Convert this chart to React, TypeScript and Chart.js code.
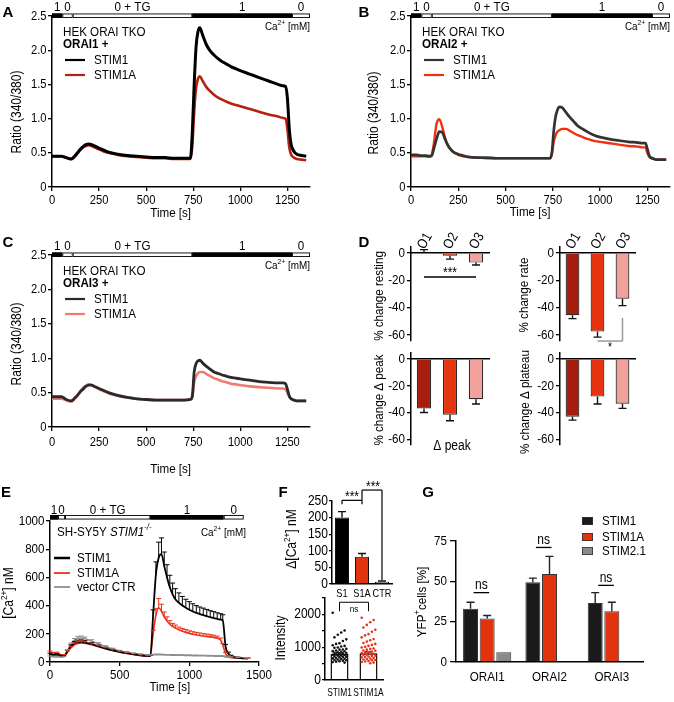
import React, { useEffect, useRef } from 'react';
import { Chart, registerables } from 'chart.js';

Chart.register(...registerables);

const W = 674;
const H = 702;
const SANS = "'Liberation Sans', Arial, Helvetica, sans-serif";
const SQ = 0.86; // horizontal squeeze to mimic a condensed Helvetica

// ---------------- protocol (Ca2+ bar) ----------------
const TIME_MAX = 1370;
const TIME_TICKS = [0, 250, 500, 750, 1000, 1250];
const RATIO_TICKS = [0, 0.5, 1, 1.5, 2, 2.5];
const CA_START = [0, 55, 110, 745, 1275];
const CA_END = [55, 110, 745, 1275, 1370];
const CA_LABELS = ['1', '0', '0 + TG', '1', '0'];
const CA_BLACK = [true, false, false, true, false];

// ---------------- panels A-C : time (s) and ratio ----------------
const T_ABC = [0, 25, 50, 75, 100, 110, 120, 135, 150, 165, 180, 195, 210, 225, 250, 275, 300, 350, 400, 450, 500, 550, 600, 650, 700, 735, 745, 755, 765, 775, 785, 800, 820, 840, 860, 880, 900, 925, 950, 975, 1000, 1050, 1100, 1150, 1200, 1225, 1240, 1250, 1260, 1270, 1285, 1300, 1325, 1350];

const A_STIM1 = [0.45, 0.45, 0.45, 0.43, 0.41, 0.42, 0.45, 0.50, 0.55, 0.59, 0.62, 0.63, 0.62, 0.60, 0.57, 0.54, 0.51, 0.48, 0.46, 0.45, 0.44, 0.43, 0.43, 0.42, 0.42, 0.42, 0.80, 1.50, 2.05, 2.27, 2.33, 2.22, 2.08, 1.99, 1.93, 1.88, 1.84, 1.80, 1.76, 1.73, 1.70, 1.65, 1.60, 1.55, 1.50, 1.48, 1.47, 1.30, 0.85, 0.62, 0.52, 0.48, 0.46, 0.45];
const A_STIM1A = [0.45, 0.45, 0.45, 0.43, 0.41, 0.42, 0.44, 0.49, 0.54, 0.58, 0.60, 0.61, 0.60, 0.58, 0.55, 0.52, 0.50, 0.47, 0.45, 0.44, 0.43, 0.42, 0.42, 0.41, 0.41, 0.41, 0.60, 1.10, 1.45, 1.58, 1.62, 1.55, 1.46, 1.40, 1.35, 1.31, 1.28, 1.25, 1.22, 1.20, 1.18, 1.14, 1.10, 1.06, 1.03, 1.01, 1.00, 0.85, 0.58, 0.47, 0.43, 0.41, 0.40, 0.39];

const B_STIM1 = [0.47, 0.47, 0.46, 0.46, 0.45, 0.46, 0.55, 0.70, 0.81, 0.80, 0.70, 0.61, 0.55, 0.51, 0.48, 0.46, 0.44, 0.43, 0.43, 0.42, 0.42, 0.42, 0.42, 0.42, 0.42, 0.42, 0.50, 0.82, 1.03, 1.13, 1.17, 1.16, 1.09, 1.02, 0.96, 0.90, 0.86, 0.82, 0.78, 0.75, 0.73, 0.70, 0.68, 0.66, 0.65, 0.64, 0.64, 0.56, 0.46, 0.43, 0.41, 0.40, 0.40, 0.40];
const B_STIM1A = [0.45, 0.45, 0.45, 0.45, 0.44, 0.47, 0.62, 0.92, 0.99, 0.88, 0.72, 0.61, 0.55, 0.51, 0.47, 0.45, 0.44, 0.43, 0.42, 0.42, 0.42, 0.42, 0.42, 0.42, 0.42, 0.42, 0.48, 0.66, 0.76, 0.81, 0.83, 0.85, 0.85, 0.82, 0.79, 0.76, 0.74, 0.71, 0.69, 0.67, 0.66, 0.64, 0.62, 0.60, 0.59, 0.58, 0.58, 0.50, 0.44, 0.42, 0.41, 0.40, 0.40, 0.40];

const C_STIM1 = [0.44, 0.44, 0.44, 0.40, 0.38, 0.39, 0.42, 0.46, 0.51, 0.55, 0.59, 0.61, 0.61, 0.59, 0.56, 0.53, 0.50, 0.46, 0.43, 0.41, 0.40, 0.39, 0.39, 0.39, 0.39, 0.40, 0.45, 0.80, 0.92, 0.96, 0.97, 0.93, 0.88, 0.84, 0.80, 0.78, 0.76, 0.74, 0.72, 0.71, 0.70, 0.68, 0.66, 0.65, 0.64, 0.64, 0.63, 0.55, 0.45, 0.41, 0.39, 0.38, 0.38, 0.38];
const C_STIM1A = [0.41, 0.41, 0.41, 0.39, 0.37, 0.38, 0.41, 0.46, 0.52, 0.57, 0.60, 0.62, 0.61, 0.59, 0.55, 0.52, 0.49, 0.45, 0.43, 0.41, 0.40, 0.39, 0.39, 0.39, 0.39, 0.40, 0.43, 0.65, 0.74, 0.78, 0.80, 0.80, 0.77, 0.74, 0.71, 0.69, 0.67, 0.65, 0.63, 0.62, 0.61, 0.59, 0.58, 0.57, 0.56, 0.56, 0.55, 0.50, 0.44, 0.41, 0.39, 0.38, 0.38, 0.38];

// ---------------- panel D : % change ----------------
const D_CATS = ['O1', 'O2', 'O3'];
const D_COLORS = ['#a61d0e', '#e5340f', '#f3a19d'];
const D_TICKS = [0, -20, -40, -60];
const D_REST = [1, -2, -7];
const D_REST_ERR = [1.5, 2.5, 1.8];
const D_RATE = [-45.5, -57.5, -33.5];
const D_RATE_ERR = [2.5, 4, 5];
const D_PEAK = [-36.8, -41.5, -30];
const D_PEAK_ERR = [3, 4.5, 3.5];
const D_PLAT = [-43, -28, -33.3];
const D_PLAT_ERR = [2.5, 5.5, 3.5];

// ---------------- panel E : [Ca2+] nM ----------------
const E_CA_START = [0, 58, 108, 720, 1247];
const E_CA_END = [58, 108, 720, 1247, 1390];
const E_X_TICKS = [0, 500, 1000, 1500];
const E_Y_TICKS = [0, 200, 400, 600, 800, 1000];
const T_E = [0, 50, 100, 125, 150, 175, 200, 225, 250, 300, 350, 400, 450, 500, 550, 600, 650, 700, 720, 740, 760, 780, 800, 820, 840, 860, 880, 900, 925, 950, 975, 1000, 1025, 1050, 1075, 1100, 1125, 1150, 1175, 1200, 1225, 1240, 1260, 1280, 1300, 1350, 1400, 1420];
const E_STIM1 = [52, 50, 42, 75, 110, 132, 140, 142, 138, 126, 110, 95, 82, 72, 63, 55, 48, 43, 42, 330, 620, 740, 765, 680, 600, 530, 480, 445, 420, 400, 385, 370, 358, 348, 340, 332, 325, 318, 312, 305, 300, 295, 110, 60, 42, 30, 26, 25];
const E_STIM1_ERR = [10, 10, 8, 10, 12, 14, 15, 15, 14, 12, 10, 10, 9, 8, 8, 7, 7, 6, 6, 40, 90, 110, 115, 100, 90, 85, 80, 75, 70, 65, 60, 58, 55, 52, 50, 50, 48, 46, 45, 44, 42, 40, 15, 10, 6, 5, 4, 4];
const E_STIM1A = [68, 62, 45, 70, 100, 122, 132, 135, 133, 122, 108, 94, 82, 70, 61, 53, 46, 42, 42, 200, 330, 385, 360, 320, 290, 268, 252, 240, 228, 218, 210, 203, 197, 192, 188, 184, 181, 178, 174, 168, 155, 120, 60, 40, 33, 28, 25, 24];
const E_STIM1A_ERR = [10, 8, 8, 10, 12, 14, 15, 15, 14, 12, 10, 9, 8, 7, 6, 6, 5, 5, 5, 25, 50, 65, 50, 35, 30, 25, 22, 22, 20, 20, 20, 18, 18, 18, 18, 17, 17, 16, 16, 15, 15, 12, 8, 6, 5, 4, 4, 4];
const E_CTR = [38, 36, 35, 80, 125, 155, 168, 170, 165, 148, 128, 108, 92, 78, 66, 58, 52, 48, 48, 50, 52, 52, 51, 50, 49, 49, 48, 48, 47, 47, 46, 46, 45, 45, 44, 44, 43, 43, 42, 41, 41, 40, 36, 33, 31, 28, 27, 26];
const E_CTR_ERR = [5, 5, 5, 8, 10, 12, 14, 14, 12, 10, 8, 7, 6, 5, 5, 4, 4, 4, 4, 4, 4, 4, 4, 4, 4, 4, 4, 4, 4, 4, 4, 4, 4, 4, 4, 4, 4, 4, 4, 4, 4, 4, 4, 4, 4, 4, 4, 4];

// ---------------- panel F ----------------
const F_CATS = ['S1', 'S1A', 'CTR'];
const F_VALS = [200, 82, 7];
const F_ERR = [18, 10, 2];
const F_COLORS = ['#000000', '#e2330f', '#8a8a8a'];
const F_TICKS = [0, 50, 100, 150, 200, 250];
const F2_CATS = ['STIM1', 'STIM1A'];
const F2_MEAN = [790, 815];
const F2_ERR = [35, 40];
const F2_TICKS = [0, 500, 1000, 1500, 2000, 2500];
const F2_DOTS_STIM1 = [2050, 1510, 1450, 1380, 1300, 1240, 1190, 1120, 1100, 1060, 1040, 1020, 990, 980, 950, 930, 925, 900, 880, 875, 860, 845, 830, 825, 810, 790, 785, 770, 760, 745, 740, 720, 705, 700, 690, 670, 660, 650, 640, 625, 610, 600, 590, 575, 560, 545, 530];
const F2_DOTS_STIM1A = [1900, 1830, 1760, 1680, 1600, 1530, 1470, 1400, 1360, 1300, 1250, 1210, 1170, 1130, 1100, 1070, 1040, 1010, 990, 960, 945, 925, 900, 890, 870, 850, 840, 820, 800, 790, 770, 760, 740, 730, 715, 700, 690, 670, 655, 640, 625, 610, 600, 580, 565, 550, 530, 510];

// ---------------- panel G ----------------
const G_CATS = ['ORAI1', 'ORAI2', 'ORAI3'];
const G_TICKS = [0, 25, 50, 75];
const G_STIM1 = [33, 49.5, 36.5];
const G_STIM1_ERR = [4, 2.5, 6.5];
const G_STIM1A = [27, 54.5, 31.5];
const G_STIM1A_ERR = [1.8, 11, 5.5];
const G_STIM21 = [6, null, 0.6];
const G_STIM21_ERR = [0, 0, 0];
const G_NS_LEVEL = [43, 71, 47.5];

// ---------------- helpers ----------------
type Area = { l: number; t: number; r: number; b: number };
const pad = (a: Area, yW: number, xH: number) => ({ left: a.l - yW, top: a.t, right: W - a.r, bottom: H - a.b - xH });
const BORDER = { display: true, color: '#000', width: 1.5 };
const tickGrid = (len: number) => ({ display: true, drawOnChartArea: false, drawTicks: true, tickLength: len, color: '#000', lineWidth: 1.3 });
const NO_GRID = { display: false, drawTicks: false };
const HIDE = { display: false };
const fixedTicks = (vals: number[]) => (s: any) => { s.ticks = vals.map((v) => ({ value: v })); };

type Part = { t: string; sup?: boolean; it?: boolean; b?: boolean };
function rich(ctx: any, parts: Part[], x: number, y: number, size: number, o: any = {}) {
  const sx = o.reg ? 1 : o.sx || SQ;
  const fontOf = (p: Part) => `${p.it ? 'italic ' : ''}${p.b ? 'bold ' : ''}${p.sup ? size * 0.68 : size}px ${SANS}`;
  ctx.save();
  ctx.translate(x, y);
  if (o.rot) ctx.rotate(o.rot);
  ctx.scale(sx, 1);
  let total = 0;
  const ws = parts.map((p) => { ctx.font = fontOf(p); const w = ctx.measureText(p.t).width; total += w; return w; });
  let cx = o.align === 'center' ? -total / 2 : o.align === 'right' ? -total : 0;
  ctx.textBaseline = 'middle';
  ctx.textAlign = 'left';
  ctx.fillStyle = o.color || '#000';
  parts.forEach((p, i) => { ctx.font = fontOf(p); ctx.fillText(p.t, cx, p.sup ? -size * 0.36 : 0); cx += ws[i]; });
  ctx.restore();
}
function text(ctx: any, s: string, x: number, y: number, size: number, o: any = {}) {
  rich(ctx, [{ t: s, b: o.b, it: o.it }], x, y, size, o);
}
function seg(ctx: any, x0: number, y0: number, x1: number, y1: number, color: string, w: number) {
  ctx.save(); ctx.strokeStyle = color; ctx.lineWidth = w; ctx.beginPath(); ctx.moveTo(x0, y0); ctx.lineTo(x1, y1); ctx.stroke(); ctx.restore();
}
// tick labels drawn from the chart's own scales (condensed text)
function drawTickLabels(chart: any, id: string, spec: any) {
  const s = chart.scales[id];
  const ctx = chart.ctx;
  const g = s.options.grid;
  const tl = g.display && g.drawTicks ? g.tickLength : 0;
  s.ticks.forEach((t: any, i: number) => {
    const p = s.getPixelForTick(i);
    const label = spec.fmt ? spec.fmt(t.value) : String(s.getLabelForValue(t.value));
    if (!label) return;
    if (s.isHorizontal()) text(ctx, label, p, s.top + tl + spec.pad + spec.size * 0.5, spec.size, { align: 'center', sx: spec.sx });
    else text(ctx, label, s.right - tl - spec.pad, p, spec.size, { align: 'right', sx: spec.sx });
  });
}
const num = (v: number) => String(v);
function drawCa(chart: any, starts: number[], ends: number[], barTop: number, labelY: number) {
  const ctx = chart.ctx; const xs = chart.scales.x;
  ctx.save();
  for (let i = 0; i < starts.length; i++) {
    const x0 = xs.getPixelForValue(starts[i]); const x1 = xs.getPixelForValue(ends[i]);
    ctx.fillStyle = CA_BLACK[i] ? '#000' : '#fff';
    ctx.fillRect(x0, barTop, x1 - x0, 4.5);
    ctx.strokeStyle = '#000'; ctx.lineWidth = 0.9;
    ctx.strokeRect(x0 + 0.45, barTop + 0.45, x1 - x0 - 0.9, 3.6);
    text(ctx, CA_LABELS[i], (x0 + x1) / 2, labelY, 13.5, { align: 'center' });
  }
  ctx.restore();
}
const caUnit = (ctx: any, x: number, y: number) => rich(ctx, [{ t: 'Ca' }, { t: '2+', sup: true }, { t: ' [mM]' }], x, y, 11.5, { align: 'right' });

const errorBars = {
  id: 'errorBars',
  afterDatasetsDraw(chart: any) {
    const ctx = chart.ctx;
    chart.data.datasets.forEach((ds: any, di: number) => {
      if (!ds.errors) return;
      const meta = chart.getDatasetMeta(di);
      const ys = chart.scales[meta.yAxisID];
      ctx.save();
      ctx.strokeStyle = ds.errorColor || ds.borderColor;
      ctx.lineWidth = ds.errorWidth || 1.2;
      meta.data.forEach((el: any, i: number) => {
        const e = ds.errors[i];
        const raw = ds.data[i];
        const v = raw !== null && typeof raw === 'object' ? raw.y : raw;
        if (!e || v === null || v === undefined) return;
        const dir = ds.errorDir || (v < 0 ? -1 : 1);
        const y1 = ys.getPixelForValue(v + dir * e);
        const cw = ds.capWidth === undefined ? 4 : ds.capWidth;
        ctx.beginPath();
        ctx.moveTo(el.x, el.y); ctx.lineTo(el.x, y1);
        ctx.moveTo(el.x - cw, y1); ctx.lineTo(el.x + cw, y1);
        ctx.stroke();
      });
      ctx.restore();
    });
  },
};
Chart.register(errorBars as any);

const baseOptions = (padding: any, scales: any) => ({
  responsive: false,
  animation: false,
  events: [],
  layout: { padding },
  plugins: { legend: { display: false }, tooltip: { enabled: false } },
  scales,
});

// ---------------- builders ----------------
function traceChart(c: any) {
  const yW = 40, xH = 20;
  return () => ({
    type: 'line',
    data: {
      datasets: [
        { data: T_ABC.map((t, i) => ({ x: t, y: c.s1[i] })), borderColor: c.c1, borderWidth: c.w1, pointRadius: 0, cubicInterpolationMode: 'monotone' },
        { data: T_ABC.map((t, i) => ({ x: t, y: c.s1a[i] })), borderColor: c.c1a, borderWidth: c.w1a, pointRadius: 0, cubicInterpolationMode: 'monotone' },
      ],
    },
    options: baseOptions(pad(c.area, yW, xH), {
      x: { type: 'linear', min: 0, max: TIME_MAX, afterBuildTicks: fixedTicks(TIME_TICKS), afterFit: (s: any) => { s.height = xH; }, grid: tickGrid(4), border: BORDER, ticks: HIDE },
      y: { type: 'linear', min: 0, max: 2.5, afterBuildTicks: fixedTicks(RATIO_TICKS), afterFit: (s: any) => { s.width = yW; }, grid: tickGrid(4), border: BORDER, ticks: HIDE },
    }),
    plugins: [{
      id: 'ann' + c.letter,
      afterDraw(chart: any) {
        const ctx = chart.ctx; const a = chart.chartArea; const xs = chart.scales.x;
        drawTickLabels(chart, 'x', { size: 13, pad: c.xpad, fmt: num });
        drawTickLabels(chart, 'y', { size: 13, pad: 1.5, fmt: (v: number) => (v === 0 ? '0' : v.toFixed(1)) });
        drawCa(chart, CA_START, CA_END, a.top - 2.5, a.top - 9);
        caUnit(ctx, a.right, a.top + 11);
        text(ctx, 'HEK ORAI TKO', a.left + 11, a.top + 16, 13.5);
        text(ctx, c.orai, a.left + 11, a.top + 28, 13.5, { b: true });
        seg(ctx, a.left + 13, a.top + 44, a.left + 33, a.top + 44, c.c1, 2.2);
        text(ctx, 'STIM1', a.left + 42, a.top + 44, 13.5);
        seg(ctx, a.left + 13, a.top + 59, a.left + 33, a.top + 59, c.c1a, 2.2);
        text(ctx, 'STIM1A', a.left + 42, a.top + 59, 13.5);
        text(ctx, 'Ratio (340/380)', c.yt[0], c.yt[1], 14, { align: 'center', rot: -Math.PI / 2 });
        text(ctx, 'Time [s]', xs.getPixelForValue(630), c.xt, 13.5, { align: 'center' });
        text(ctx, c.letter, c.lp[0], c.lp[1], 15, { b: true, align: 'center', reg: true });
      },
    }],
  });
}

function dChart(c: any) {
  const yW = 40;
  return () => ({
    type: 'bar',
    data: { labels: D_CATS, datasets: [{ data: c.vals, errors: c.errs, backgroundColor: D_COLORS, borderColor: '#2a2a2a', borderWidth: 1.2, barPercentage: 0.55, categoryPercentage: 1, errorColor: '#111', capWidth: 4, errorWidth: 1.4 }] },
    options: baseOptions(pad(c.area, yW, 0), {
      x: { type: 'category', position: { y: 0 }, grid: NO_GRID, border: BORDER, ticks: HIDE },
      y: { type: 'linear', min: -64, max: 4.4, afterBuildTicks: fixedTicks(D_TICKS), afterFit: (s: any) => { s.width = yW; }, grid: tickGrid(4), border: BORDER, ticks: HIDE },
    }),
    plugins: [{
      id: 'annD' + c.title,
      afterDraw(chart: any) {
        const ctx = chart.ctx; const a = chart.chartArea; const ys = chart.scales.y;
        const meta = chart.getDatasetMeta(0);
        const y0 = ys.getPixelForValue(0);
        drawTickLabels(chart, 'y', { size: 13.5, pad: 2, fmt: num });
        text(ctx, c.title, c.yt[0], c.yt[1], 13.5, { align: 'center', rot: -Math.PI / 2 });
        if (c.top) D_CATS.forEach((s, i) => text(ctx, s, meta.data[i].x - 3, y0 - 5, 14, { rot: -Math.PI / 3 }));
        if (c.extra) c.extra(ctx, a, ys, meta);
      },
    }],
  });
}

function eChart() {
  const area = { l: 50, t: 521, r: 259, b: 662 };
  const yW = 40, xH = 20;
  const mk = (vals: number[], errs: number[], color: string, w: number) => ({
    data: T_E.map((t, i) => ({ x: t, y: vals[i] })), errors: errs, errorDir: 1, capWidth: 2.5, errorWidth: 1, errorColor: color,
    borderColor: color, borderWidth: w, pointRadius: 0, cubicInterpolationMode: 'monotone',
  });
  return {
    type: 'line',
    data: { datasets: [mk(E_STIM1, E_STIM1_ERR, '#000', 1.8), mk(E_STIM1A, E_STIM1A_ERR, '#e8321c', 1.6), mk(E_CTR, E_CTR_ERR, '#8f8f8f', 1.5)] },
    options: baseOptions(pad(area, yW, xH), {
      x: { type: 'linear', min: 0, max: 1500, afterBuildTicks: fixedTicks(E_X_TICKS), afterFit: (s: any) => { s.height = xH; }, grid: tickGrid(4), border: BORDER, ticks: HIDE },
      y: { type: 'linear', min: 0, max: 1000, afterBuildTicks: fixedTicks(E_Y_TICKS), afterFit: (s: any) => { s.width = yW; }, grid: tickGrid(4), border: BORDER, ticks: HIDE },
    }),
    plugins: [{
      id: 'annE',
      afterDraw(chart: any) {
        const ctx = chart.ctx; const a = chart.chartArea; const xs = chart.scales.x;
        drawTickLabels(chart, 'x', { size: 13.5, pad: 3, fmt: num });
        drawTickLabels(chart, 'y', { size: 13.5, pad: 1.5, fmt: num });
        drawCa(chart, E_CA_START, E_CA_END, a.top - 6, a.top - 11);
        caUnit(ctx, a.right - 13, a.top + 12);
        rich(ctx, [{ t: 'SH-SY5Y ' }, { t: 'STIM1', it: true }, { t: '-/-', sup: true, it: true }], a.left + 7, a.top + 11, 13.5);
        seg(ctx, a.left + 4, a.top + 37, a.left + 20, a.top + 37, '#000', 2.5);
        text(ctx, 'STIM1', a.left + 27, a.top + 37, 13.5);
        seg(ctx, a.left + 4, a.top + 52, a.left + 20, a.top + 52, '#e8321c', 1.8);
        text(ctx, 'STIM1A', a.left + 27, a.top + 52, 13.5);
        seg(ctx, a.left + 4, a.top + 66, a.left + 20, a.top + 66, '#8f8f8f', 1.8);
        text(ctx, 'vector CTR', a.left + 27, a.top + 66, 13.5);
        rich(ctx, [{ t: '[Ca' }, { t: '2+', sup: true }, { t: '] nM' }], 9, 593, 14, { align: 'center', rot: -Math.PI / 2 });
        text(ctx, 'Time [s]', xs.getPixelForValue(860), 687, 13.5, { align: 'center' });
        text(ctx, 'E', 6, 493, 15, { b: true, align: 'center', reg: true });
      },
    }],
  };
}

function fTopChart() {
  const area = { l: 332, t: 501, r: 392, b: 584 };
  const yW = 40, xH = 20;
  return {
    type: 'bar',
    data: { labels: F_CATS, datasets: [{ data: F_VALS, errors: F_ERR, backgroundColor: F_COLORS, borderColor: '#111', borderWidth: 1, barPercentage: 0.7, categoryPercentage: 1, errorColor: '#111', capWidth: 4, errorWidth: 1.4 }] },
    options: baseOptions(pad(area, yW, xH), {
      x: { type: 'category', afterFit: (s: any) => { s.height = xH; }, grid: NO_GRID, border: BORDER, ticks: HIDE },
      y: { type: 'linear', min: 0, max: 250, afterBuildTicks: fixedTicks(F_TICKS), afterFit: (s: any) => { s.width = yW; }, grid: tickGrid(3), border: BORDER, ticks: HIDE },
    }),
    plugins: [{
      id: 'annF',
      afterDraw(chart: any) {
        const ctx = chart.ctx; const ys = chart.scales.y;
        drawTickLabels(chart, 'x', { size: 11.5, pad: 4, sx: 0.8 });
        drawTickLabels(chart, 'y', { size: 14, pad: 1, fmt: num });
        const m = chart.getDatasetMeta(0).data;
        const yb1 = ys.getPixelForValue(252); const yb2 = ys.getPixelForValue(283);
        seg(ctx, m[0].x, yb1 + 4, m[0].x, yb1, '#000', 1.2);
        seg(ctx, m[0].x, yb1, m[1].x, yb1, '#000', 1.2);
        seg(ctx, m[1].x, yb2, m[1].x, yb1 + 4, '#000', 1.2);
        seg(ctx, m[1].x, yb2, m[2].x, yb2, '#000', 1.2);
        seg(ctx, m[2].x, yb2, m[2].x, ys.getPixelForValue(12), '#000', 1.2);
        text(ctx, '***', (m[0].x + m[1].x) / 2, yb1 - 3, 14, { align: 'center' });
        text(ctx, '***', (m[1].x + m[2].x) / 2 + 1, yb2 - 3, 14, { align: 'center' });
        rich(ctx, [{ t: 'Δ[Ca' }, { t: '2+', sup: true }, { t: '] nM' }], 292, 539, 14, { align: 'center', rot: -Math.PI / 2 });
        text(ctx, 'F', 283, 493, 15, { b: true, align: 'center', reg: true });
      },
    }],
  };
}

function fBottomChart() {
  const area = { l: 325, t: 598, r: 383, b: 680 };
  const yW = 40, xH = 21;
  return {
    type: 'bar',
    data: { labels: F2_CATS, datasets: [{ data: F2_MEAN, errors: F2_ERR, backgroundColor: 'rgba(255,255,255,0)', borderColor: '#000', borderWidth: 1.4, barPercentage: 0.62, categoryPercentage: 1, errorColor: '#000', capWidth: 4 }] },
    options: baseOptions(pad(area, yW, xH), {
      x: { type: 'category', afterFit: (s: any) => { s.height = xH; }, grid: NO_GRID, border: BORDER, ticks: HIDE },
      y: { type: 'linear', min: 0, max: 2500, afterBuildTicks: fixedTicks(F2_TICKS), afterFit: (s: any) => { s.width = yW; }, grid: tickGrid(3), border: BORDER, ticks: HIDE },
    }),
    plugins: [{
      id: 'annF2',
      afterDatasetsDraw(chart: any) {
        const ctx = chart.ctx; const ys = chart.scales.y;
        const m = chart.getDatasetMeta(0).data;
        const sets = [[F2_DOTS_STIM1, '#111'], [F2_DOTS_STIM1A, '#e8321c']] as any;
        ctx.save();
        sets.forEach((sdef: any, k: number) => {
          ctx.fillStyle = sdef[1];
          sdef[0].forEach((v: number, i: number) => {
            const off = (((i * 7) % 9) - 4) * 1.7;
            ctx.beginPath(); ctx.arc(m[k].x + off, ys.getPixelForValue(v), 1.3, 0, Math.PI * 2); ctx.fill();
          });
        });
        ctx.restore();
      },
      afterDraw(chart: any) {
        const ctx = chart.ctx; const ys = chart.scales.y;
        drawTickLabels(chart, 'x', { size: 10.5, pad: 8, sx: 0.8 });
        drawTickLabels(chart, 'y', { size: 14, pad: 1, fmt: (v: number) => (v % 1000 === 0 ? String(v) : '') });
        const m = chart.getDatasetMeta(0).data;
        const yb = ys.getPixelForValue(2370);
        seg(ctx, m[0].x, yb + 9, m[0].x, yb, '#000', 1);
        seg(ctx, m[0].x, yb, m[1].x, yb, '#000', 1);
        seg(ctx, m[1].x, yb, m[1].x, yb + 9, '#000', 1);
        text(ctx, 'ns', (m[0].x + m[1].x) / 2, yb + 7, 9.5, { align: 'center' });
        text(ctx, 'Intensity', 281, 638, 14, { align: 'center', rot: -Math.PI / 2 });
      },
    }],
  };
}

function gChart() {
  const area = { l: 456, t: 541, r: 643, b: 662 };
  const yW = 40, xH = 30;
  const colors = ['#1a1a1a', '#e2330f', '#8a8a8a'];
  const mk = (vals: any[], errs: number[], i: number) => ({ data: vals, errors: errs, backgroundColor: colors[i], borderColor: '#333', borderWidth: 1, categoryPercentage: 0.8, barPercentage: 0.9, errorColor: '#222', capWidth: 4, errorWidth: 1.4 });
  return {
    type: 'bar',
    data: { labels: G_CATS, datasets: [mk(G_STIM1, G_STIM1_ERR, 0), mk(G_STIM1A, G_STIM1A_ERR, 1), mk(G_STIM21, G_STIM21_ERR, 2)] },
    options: baseOptions(pad(area, yW, xH), {
      x: { type: 'category', afterFit: (s: any) => { s.height = xH; }, grid: NO_GRID, border: BORDER, ticks: HIDE },
      y: { type: 'linear', min: 0, max: 75, afterBuildTicks: fixedTicks(G_TICKS), afterFit: (s: any) => { s.width = yW; }, grid: tickGrid(6), border: BORDER, ticks: HIDE },
    }),
    plugins: [{
      id: 'annG',
      afterDraw(chart: any) {
        const ctx = chart.ctx; const ys = chart.scales.y;
        drawTickLabels(chart, 'x', { size: 13.5, pad: 8.5 });
        drawTickLabels(chart, 'y', { size: 13.5, pad: 3, fmt: num });
        const m0 = chart.getDatasetMeta(0).data; const m1 = chart.getDatasetMeta(1).data;
        G_NS_LEVEL.forEach((lv, i) => {
          const y = ys.getPixelForValue(lv);
          const xa = m0[i].x + 3, xb = m1[i].x + 2;
          seg(ctx, xa, y, xb, y, '#000', 1.3);
          text(ctx, 'ns', (xa + xb) / 2, y - 7, 14, { align: 'center' });
        });
        const names = ['STIM1', 'STIM1A', 'STIM2.1'];
        const ly = [521, 537, 551];
        names.forEach((n, i) => {
          ctx.fillStyle = colors[i]; ctx.fillRect(582, ly[i] - 4, 11, 8);
          ctx.strokeStyle = '#333'; ctx.lineWidth = 0.8; ctx.strokeRect(582.4, ly[i] - 3.6, 10.2, 7.2);
          text(ctx, n, 602, ly[i], 13.5);
        });
        rich(ctx, [{ t: 'YFP' }, { t: '+', sup: true }, { t: 'cells [%]' }], 422, 602, 13.5, { align: 'center', rot: -Math.PI / 2 });
        text(ctx, 'G', 428, 493, 15, { b: true, align: 'center', reg: true });
      },
    }],
  };
}

const BUILDERS: (() => any)[] = [
  traceChart({ area: { l: 52, t: 16, r: 310, b: 187 }, s1: A_STIM1, s1a: A_STIM1A, c1: '#000', c1a: '#b8200e', w1: 3, w1a: 2.6, letter: 'A', lp: [8, 13], orai: 'ORAI1 +', yt: [17, 112], xt: 213, xpad: 3 }),
  traceChart({ area: { l: 411, t: 16, r: 670, b: 187 }, s1: B_STIM1, s1a: B_STIM1A, c1: '#333', c1a: '#f0300f', w1: 2.7, w1a: 2.4, letter: 'B', lp: [364, 13], orai: 'ORAI2 +', yt: [374, 113], xt: 212, xpad: 3 }),
  traceChart({ area: { l: 52, t: 255, r: 310, b: 427 }, s1: C_STIM1, s1a: C_STIM1A, c1: '#2a2a2a', c1a: '#f07a70', w1: 2.8, w1a: 2.6, letter: 'C', lp: [8, 243], orai: 'ORAI3 +', yt: [17, 344], xt: 469, xpad: 4.5 }),
  dChart({ area: { l: 411, t: 247, r: 489, b: 340.5 }, vals: D_REST, errs: D_REST_ERR, title: '% change resting', yt: [379, 296], top: true,
    extra: (ctx: any, a: any, ys: any, meta: any) => {
      const y = ys.getPixelForValue(-17.6);
      seg(ctx, meta.data[0].x, y, meta.data[2].x, y, '#000', 1.5);
      text(ctx, '***', (meta.data[0].x + meta.data[2].x) / 2, y - 4, 14, { align: 'center' });
      text(ctx, 'D', 364, 243, 15, { b: true, align: 'center', reg: true });
    } }),
  dChart({ area: { l: 560, t: 247, r: 635, b: 340.5 }, vals: D_RATE, errs: D_RATE_ERR, title: '% change rate', yt: [524, 295], top: true,
    extra: (ctx: any, a: any, ys: any, meta: any) => {
      const yt = ys.getPixelForValue(-47.5); const yb = ys.getPixelForValue(-64.4);
      seg(ctx, meta.data[2].x, yt, meta.data[2].x, yb, '#999', 1.5);
      seg(ctx, meta.data[1].x, yb, meta.data[2].x, yb, '#999', 1.5);
      text(ctx, '*', (meta.data[1].x + meta.data[2].x) / 2, yb + 7, 12, { align: 'center' });
    } }),
  dChart({ area: { l: 411, t: 353, r: 489, b: 445 }, vals: D_PEAK, errs: D_PEAK_ERR, title: '% change Δ peak', yt: [379, 400], top: false,
    extra: (ctx: any, a: any, ys: any, meta: any) => {
      text(ctx, 'Δ peak', meta.data[1].x + 2, a.bottom + 1, 14, { align: 'center' });
    } }),
  dChart({ area: { l: 560, t: 353, r: 635, b: 445 }, vals: D_PLAT, errs: D_PLAT_ERR, title: '% change Δ plateau', yt: [525, 402], top: false }),
  eChart,
  fTopChart,
  fBottomChart,
  gChart,
];

export default function App() {
  const refs = useRef<(HTMLCanvasElement | null)[]>([]);
  useEffect(() => {
    const charts = BUILDERS.map((b, i) => new Chart(refs.current[i] as HTMLCanvasElement, b() as any));
    return () => charts.forEach((c) => c.destroy());
  }, []);
  return (
    <div style={{ position: 'absolute', left: 0, top: 0, width: W, height: H, background: '#fff', overflow: 'hidden' }}>
      {BUILDERS.map((_, i) => (
        <canvas
          key={i}
          ref={(el) => { refs.current[i] = el; }}
          width={W}
          height={H}
          style={{ position: 'absolute', left: 0, top: 0, width: W, height: H }}
        />
      ))}
    </div>
  );
}
